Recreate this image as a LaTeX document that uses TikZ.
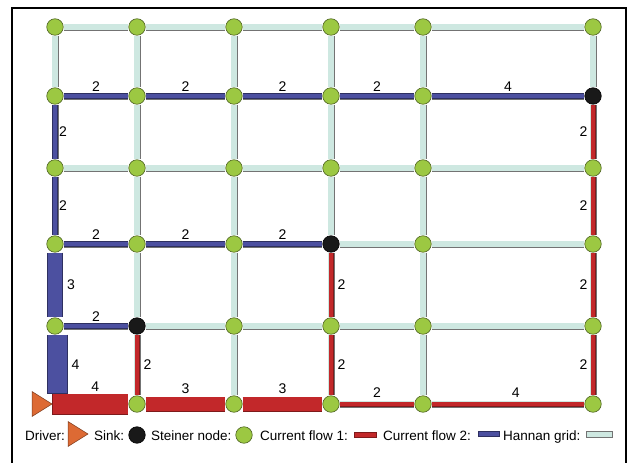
\documentclass[tikz,border=0pt]{standalone}
\usepackage{fontspec}
\setmainfont{Liberation Sans}
\usetikzlibrary{backgrounds}
\definecolor{flowred}{RGB}{194,40,42}
\definecolor{flowblue}{RGB}{76,80,160}
\definecolor{hannan}{RGB}{206,232,225}
\definecolor{leaf}{RGB}{156,200,66}
\definecolor{drvor}{RGB}{221,106,52}

\begin{document}
\begin{tikzpicture}[x=1pt,y=-1pt,font=\fontsize{13.5}{16}\selectfont,
  steinnode/.style={circle,fill=leaf,draw=leaf!50!black,line width=0.6pt,minimum size=16.5pt,inner sep=0pt},
  sinknode/.style={circle,fill=black!90,draw=black,line width=0.6pt,minimum size=16.5pt,inner sep=0pt},
  band/.style n args={4}{preaction={draw=#2,line width=#3,shorten <=0pt,shorten >=0pt},
    draw=#1,line width=#4,shorten <=0.6pt,shorten >=0.6pt},
  hgrid/.style={band={hannan}{black!55}{7pt}{5.4pt}},
  redthin/.style={band={flowred}{flowred!65!black}{5pt}{3.8pt}},
  redwide/.style={band={flowred}{flowred!65!black}{#1}{#1-1.2pt}},
  bluethin/.style={band={flowblue}{flowblue!60!black}{5.4pt}{4.2pt}},
  bluewide/.style={band={flowblue}{flowblue!60!black}{#1}{#1-1.2pt}},
  lbl/.style={inner sep=1.5pt,outer sep=0pt,font=\fontsize{14}{16}\selectfont},
  legtxt/.style={anchor=base west,inner sep=0pt},
  swatch/.style={rectangle,inner sep=0pt,line width=0.6pt},
  drivertri/.pic={
    \draw[fill=drvor,draw=drvor!55!black,line width=0.5pt] (-10,-12.5) -- (10,0) -- (-10,12.5) -- cycle;
    \coordinate (-tip) at (10,0);}]
\useasboundingbox (0,0) rectangle (630,463);
\draw[line width=1.5pt] (12,470) -- (12,8) -- (626,8) -- (626,470);

% grid points: sinks black, Steiner nodes green
\foreach \x [count=\c] in {55,137,234,331,423,593}{
  \foreach \y [count=\r] in {27,96,168,244,326,404}{
    \pgfmathtruncatemacro\k{10*\c+\r}
    \def\kind{steinnode}
    \ifnum\k=62 \def\kind{sinknode}\fi
    \ifnum\k=44 \def\kind{sinknode}\fi
    \ifnum\k=25 \def\kind{sinknode}\fi
    \ifnum\k=16 \coordinate (n\k) at (\x,\y); \else \node[\kind] (n\k) at (\x,\y) {}; \fi
  }
}
\pic (drv) at (42,404) {drivertri};
\coordinate (b4top) at (57.5,334.5);
\coordinate (b4bot) at (57.5,394);

\begin{pgfonlayer}{background}
% Hannan grid
\foreach \r in {1,...,6}{
  \foreach \c [evaluate=\c as \d using int(\c+1)] in {1,...,5}{\draw[hgrid] (n\c\r) -- (n\d\r);}}
\foreach \c in {1,...,6}{
  \foreach \r [evaluate=\r as \s using int(\r+1)] in {1,...,5}{\draw[hgrid] (n\c\r) -- (n\c\s);}}
% current flow 2
\draw[bluethin] (n12) -- node[lbl,above=3pt]{2} (n22);
\draw[bluethin] (n22) -- node[lbl,above=3pt]{2} (n32);
\draw[bluethin] (n32) -- node[lbl,above=3pt]{2} (n42);
\draw[bluethin] (n42) -- node[lbl,above=3pt]{2} (n52);
\draw[bluethin] (n52) -- node[lbl,above=3pt]{4} (n62);
\draw[bluethin] (n12) -- node[lbl,right=2.5pt]{2} (n13);
\draw[bluethin] (n13) -- node[lbl,right=2.5pt]{2} (n14);
\draw[bluethin] (n14) -- node[lbl,above=3pt]{2} (n24);
\draw[bluethin] (n24) -- node[lbl,above=3pt]{2} (n34);
\draw[bluethin] (n34) -- node[lbl,above=3pt]{2} (n44);
\draw[bluewide=16pt] (n14) -- node[lbl,right=10.5pt]{3} (n15);
\draw[bluethin] (n15) -- node[lbl,above=3pt]{2} (n25);
\draw[bluewide=21pt] (b4top) -- node[lbl,right=12.5pt]{4} (b4bot);
% current flow 1
\draw[redthin] (n62) -- node[lbl,left=4pt]{2} (n63);
\draw[redthin] (n63) -- node[lbl,left=4pt]{2} (n64);
\draw[redthin] (n64) -- node[lbl,left=4pt]{2} (n65);
\draw[redthin] (n65) -- node[lbl,left=4pt]{2} (n66);
\draw[redthin] (n56) -- node[lbl,above=5pt,pos=0.55]{4} (n66);
\draw[redthin] (n46) -- node[lbl,above=5pt]{2} (n56);
\draw[redthin] (n44) -- node[lbl,right=5pt]{2} (n45);
\draw[redthin] (n45) -- node[lbl,right=5pt]{2} (n46);
\draw[redwide=15pt] (n36) -- node[lbl,above=8.5pt]{3} (n46);
\draw[redwide=15pt] (n26) -- node[lbl,above=8.5pt]{3} (n36);
\draw[redwide=21pt] (drv-tip) -- node[lbl,above=11.5pt,xshift=5pt]{4} (n26);
\draw[redthin] (n25) -- node[lbl,right=5pt]{2} (n26);
\end{pgfonlayer}

% legend
\node[legtxt] (lgdrv) at (25,440) {Driver:};
\pic (lgtri) at (78,434) {drivertri};
\node[legtxt] (lgsink) at (94,440) {Sink:};
\node[sinknode] (lgsinkm) at (137,435) {};
\node[legtxt] (lgstein) at (151,440) {Steiner node:};
\node[steinnode] (lgsteinm) at (244,435) {};
\node[legtxt] (lgflowa) at (260,440) {Current flow 1:};
\node[swatch,fill=flowred,draw=flowred!65!black,minimum width=22pt,minimum height=5pt] (lgflowam) at (365,434.5) {};
\node[legtxt] (lgflowb) at (383,440) {Current flow 2:};
\node[swatch,fill=flowblue,draw=flowblue!60!black,minimum width=21pt,minimum height=5.5pt] (lgflowbm) at (488.5,434) {};
\node[legtxt] (lghan) at (503,440) {Hannan grid:};
\node[swatch,fill=hannan,draw=black!55,minimum width=26pt,minimum height=6pt] (lghanm) at (599,434) {};
\end{tikzpicture}
\end{document}
